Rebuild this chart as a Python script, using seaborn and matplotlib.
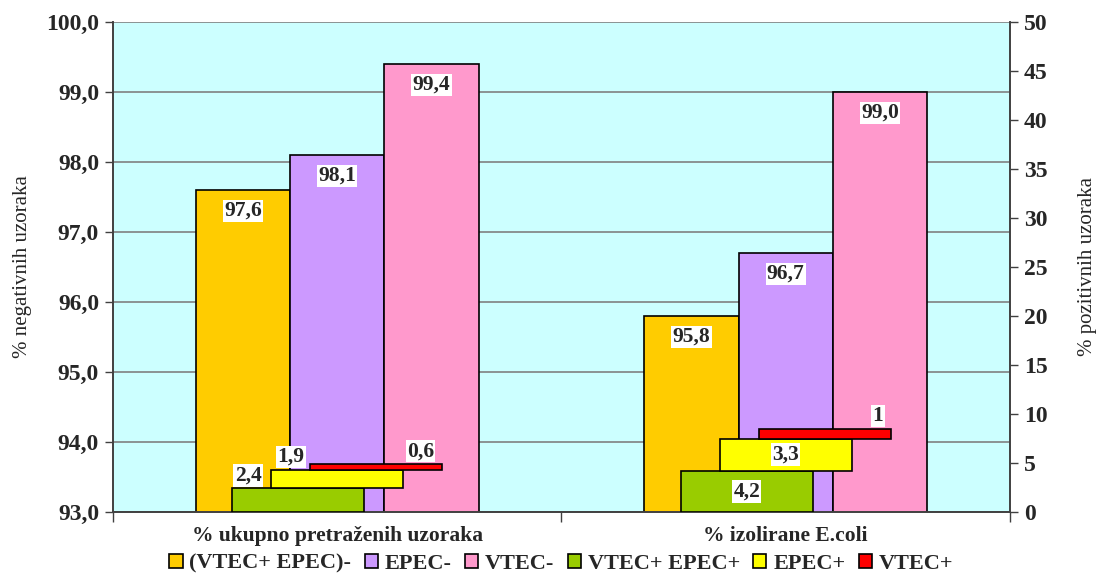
import matplotlib
matplotlib.use('Agg')
import matplotlib.pyplot as plt
import seaborn as sns
import pandas as pd
import numpy as np
from matplotlib.patches import Patch

# ---------------- data ----------------
categories = ['% ukupno pretraženih uzoraka', '% izolirane E.coli']
neg_series = ['(VTEC+ EPEC)-', 'EPEC-', 'VTEC-']
neg_vals_1 = [97.6, 95.8]   # (VTEC+ EPEC)-
neg_vals_2 = [98.1, 96.7]   # EPEC-
neg_vals_3 = [99.4, 99.0]   # VTEC-
neg_labels = [['97,6', '95,8'], ['98,1', '96,7'], ['99,4', '99,0']]

pos_series = ['VTEC+ EPEC+', 'EPEC+', 'VTEC+']
pos_vals_1 = [2.4, 4.2]     # VTEC+ EPEC+
pos_vals_2 = [1.9, 3.3]     # EPEC+
pos_vals_3 = [0.6, 1.0]     # VTEC+
pos_labels = [['2,4', '4,2'], ['1,9', '3,3'], ['0,6', '1']]

left_ticks = [93.0, 94.0, 95.0, 96.0, 97.0, 98.0, 99.0, 100.0]
left_ticklabels = ['93,0', '94,0', '95,0', '96,0', '97,0', '98,0', '99,0', '100,0']
right_ticks = [0, 5, 10, 15, 20, 25, 30, 35, 40, 45, 50]

# ---------------- style ----------------
neg_colors = ['#FFCC00', '#CC99FF', '#FF99CC']
pos_colors = ['#99CC00', '#FFFF00', '#FF0000']
pos_offsets = [-0.087, 0.0, 0.087]
pos_width = 0.295
# label placement for positive bars: (x anchor, dx px, y anchor) per series per category
pos_place = [
    [('left', 16, 'top'), ('center', 0, 'mid')],
    [('left', 20, 'top'), ('center', 0, 'mid')],
    [('right', -22, 'top'), ('right', -13, 'top')],
]

sns.set_style('white')
plt.rcParams['font.family'] = ['Liberation Serif', 'DejaVu Serif']

fig = plt.figure(figsize=(10.96, 5.74), dpi=100)
ax = fig.add_axes([0.1031, 0.108, 0.8184, 0.8537])
ax.set_facecolor('#CCFFFF')

df = pd.DataFrame({
    'category': categories * 3,
    'series': [s for s in neg_series for _ in categories],
    'value': neg_vals_1 + neg_vals_2 + neg_vals_3,
})
sns.barplot(data=df, x='category', y='value', hue='series', order=categories,
            hue_order=neg_series, palette=neg_colors, width=0.63, saturation=1,
            edgecolor='black', linewidth=1.2, ax=ax, legend=False, zorder=2)

ax.set_ylim(93, 100)
ax.set_xlim(-0.5, 1.5)
ax.set_yticks(left_ticks)
ax.set_yticklabels(left_ticklabels, fontsize=17, fontweight='bold')
ax.yaxis.grid(True, color='#808080', linewidth=1.2, zorder=0)
ax.set_axisbelow(True)
ax.set_xlabel('')
ax.set_ylabel('% negativnih uzoraka', fontsize=15, labelpad=10)
ax.set_xticks([0, 1])
ax.set_xticklabels(categories, fontsize=15.5, fontweight='bold')
ax.set_xticks([-0.5, 0.5, 1.5], minor=True)
ax.tick_params(axis='x', which='major', length=0, pad=10)
ax.tick_params(axis='x', which='minor', length=7, width=1, color='#404040', direction='out', bottom=True)
ax.tick_params(axis='y', length=6, width=1, color='#404040', direction='out', left=True, pad=4)
for s in ax.spines.values():
    s.set_color('#404040')
    s.set_linewidth(1.2)
ax.spines['top'].set_visible(False)

for ci, cont in enumerate(ax.containers):
    for j, bar in enumerate(cont):
        ax.annotate(neg_labels[ci][j], (bar.get_x() + bar.get_width() / 2, bar.get_height()),
                    xytext=(0, -15), textcoords='offset points', ha='center', va='center',
                    fontsize=15.5, fontweight='bold', zorder=5,
                    bbox=dict(facecolor='white', edgecolor='none', pad=1.0))

ax2 = ax.twinx()
ax2.set_ylim(0, 50)
ax2.set_yticks(right_ticks)
ax2.set_yticklabels([str(t) for t in right_ticks], fontsize=17, fontweight='bold')
ax2.set_ylabel('% pozitivnih uzoraka', fontsize=15, labelpad=22)
ax2.tick_params(axis='y', length=6, width=1, color='#404040', direction='out', right=True, pad=4)
ax2.grid(False)
for s in ax2.spines.values():
    s.set_color('#404040')
    s.set_linewidth(1.2)
ax2.spines['top'].set_visible(False)

x = np.arange(len(categories))
bottoms = np.zeros(len(categories))
px = 72 / 100.0
for si, vals in enumerate([pos_vals_1, pos_vals_2, pos_vals_3]):
    vals = np.array(vals)
    bars = ax2.bar(x + pos_offsets[si], vals, pos_width, bottom=bottoms, color=pos_colors[si],
                   edgecolor='black', linewidth=1.2, zorder=3)
    for j, bar in enumerate(bars):
        xa, dx, ya = pos_place[si][j]
        if xa == 'left':
            xx = bar.get_x()
        elif xa == 'right':
            xx = bar.get_x() + bar.get_width()
        else:
            xx = bar.get_x() + bar.get_width() / 2
        if ya == 'top':
            yy = bottoms[j] + vals[j]
            va = 'bottom'
            dy = 2
        else:
            yy = bottoms[j] + vals[j] / 2
            va = 'center'
            dy = 0
        ax2.annotate(pos_labels[si][j], (xx, yy), xytext=(dx * px, dy), textcoords='offset points',
                     ha='center', va=va, fontsize=15.5, fontweight='bold', zorder=6,
                     bbox=dict(facecolor='white', edgecolor='none', pad=1.0))
    bottoms = bottoms + vals

handles = [Patch(facecolor=c, edgecolor='black', linewidth=1.2) for c in neg_colors + pos_colors]
labels = neg_series + pos_series
fig.legend(handles, labels, loc='lower center', bbox_to_anchor=(0.512, -0.034), ncol=6,
           frameon=False, handlelength=0.6, handleheight=0.6, handletextpad=0.3,
           columnspacing=0.6, prop={'weight': 'bold', 'size': 16})

fig.savefig('out.png', dpi=100)
